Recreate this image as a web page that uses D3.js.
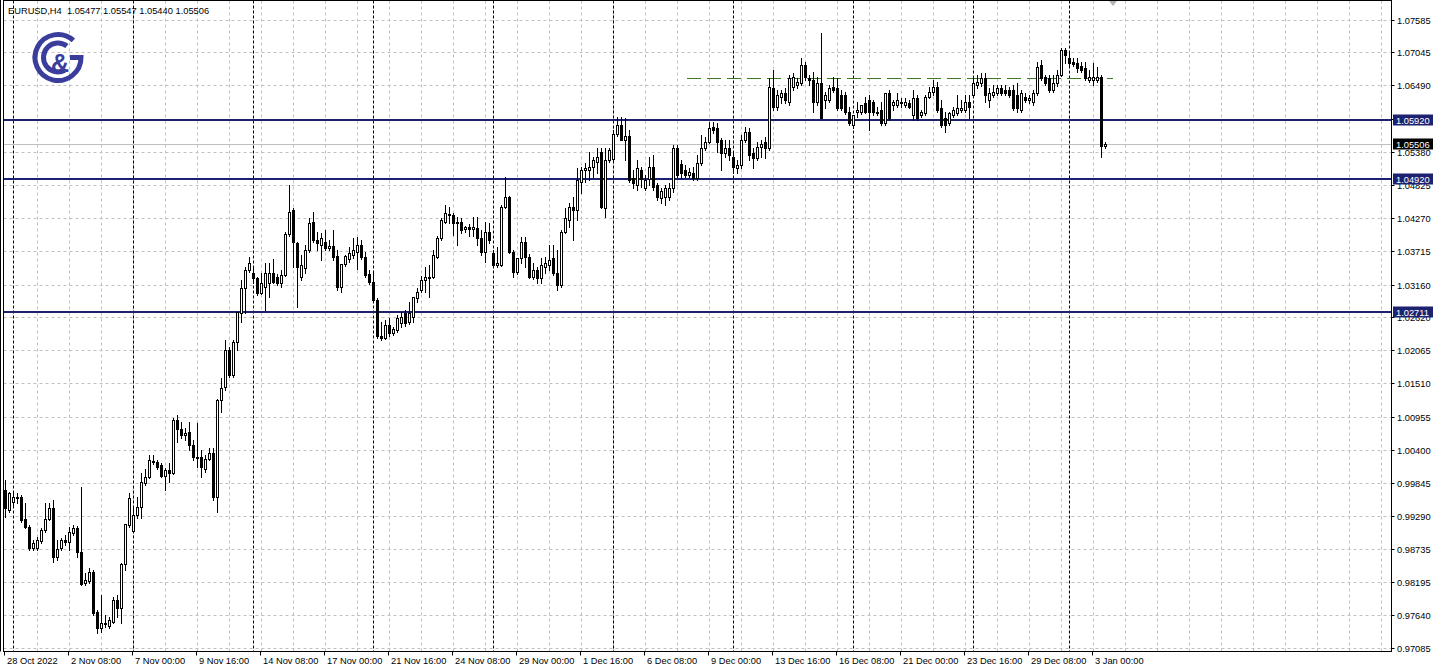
<!DOCTYPE html>
<html><head><meta charset="utf-8">
<script src="https://cdn.jsdelivr.net/npm/d3@7"></script>
<style>
body{margin:0;background:#fff;overflow:hidden}
svg{display:block}
text{font-family:"Liberation Sans",Arial,sans-serif}
</style></head>
<body><svg id="chart" width="1438" height="671"></svg>
<script>
// ---------------- data (EURUSD H4, bar 0 = 28 Oct 2022 16:00) ----------------
const headerText = "EURUSD,H4  1.05477 1.05547 1.05440 1.05506";
const open = [
0.9973,0.9939,0.9953,0.9959,0.9961,0.9924,0.9911,0.9876,0.9876,0.9887,
0.9906,0.9924,0.9943,0.9861,0.9876,0.9889,0.9886,0.9901,0.9909,0.9869,
0.9817,0.9820,0.9836,0.9769,0.9742,0.9749,0.9745,0.9752,0.9789,0.9775,
0.9849,0.9914,0.9904,0.9931,0.9944,0.9984,0.9994,1.0021,1.0019,1.0014,
0.9996,1.0006,1.0001,1.0090,1.0075,1.0065,1.0070,1.0048,1.0028,1.0028,
1.0008,1.0024,1.0034,0.9961,1.0123,1.0145,1.0207,1.0165,1.0220,1.0269,
1.0310,1.0341,1.0336,1.0327,1.0302,1.0312,1.0319,1.0336,1.0329,1.0319,
1.0332,1.0401,1.0441,1.0386,1.0329,1.0344,1.0374,1.0421,1.0391,1.0382,
1.0387,1.0377,1.0381,1.0364,1.0312,1.0350,1.0359,1.0366,1.0371,1.0382,
1.0362,1.0334,1.0321,1.0290,1.0230,1.0227,1.0249,1.0235,1.0240,1.0252,
1.0269,1.0254,1.0262,1.0294,1.0307,1.0324,1.0327,1.0329,1.0362,1.0394,
1.0421,1.0432,1.0432,1.0419,1.0421,1.0409,1.0412,1.0409,1.0411,1.0394,
1.0371,1.0404,1.0369,1.0349,1.0349,1.0446,1.0463,1.0371,1.0337,1.0361,
1.0387,1.0362,1.0329,1.0341,1.0327,1.0346,1.0349,1.0361,1.0336,1.0315,
1.0404,1.0424,1.0446,1.0441,1.0488,1.0508,1.0508,1.0513,1.0521,1.0538,
1.0444,1.0524,1.0526,1.0568,1.0583,1.0558,1.0565,1.0494,1.0483,1.0508,
1.0477,1.0493,1.0513,1.0483,1.0461,1.0463,1.0463,1.0477,1.0545,1.0518,
1.0508,1.0499,1.0503,1.0494,1.0519,1.0545,1.0555,1.0580,1.0578,1.0558,
1.0536,1.0545,1.0529,1.0511,1.0516,1.0558,1.0571,1.0536,1.0528,1.0546,
1.0555,1.0545,1.0645,1.0613,1.0630,1.0637,1.0621,1.0647,1.0650,1.0653,
1.0683,1.0662,1.0658,1.0621,1.0653,1.0625,1.0625,1.0647,1.0645,1.0633,
1.0633,1.0605,1.0583,1.0605,1.0605,1.0620,1.0625,1.0621,1.0603,1.0608,
1.0586,1.0637,1.0616,1.0616,1.0621,1.0616,1.0620,1.0600,1.0628,1.0600,
1.0603,1.0630,1.0638,1.0647,1.0611,1.0595,1.0586,1.0600,1.0603,1.0608,
1.0608,1.0621,1.0633,1.0650,1.0653,1.0662,1.0625,1.0633,1.0637,1.0645,
1.0642,1.0642,1.0642,1.0633,1.0608,1.0630,1.0625,1.0621,1.0637,1.0683,
1.0663,1.0662,1.0642,1.0653,1.0667,1.0708,1.0695,1.0688,1.0687,1.0682,
1.0678,1.0658,1.0658,1.0658,1.0663,1.05477];
const high = [
0.9989,0.9969,0.9968,0.9968,0.9964,0.9951,0.9914,0.9889,0.9894,0.9909,
0.9951,0.9951,0.9956,0.9889,0.9892,0.9897,0.9911,0.9914,0.9912,0.9978,
0.9834,0.9842,0.9839,0.9772,0.9797,0.9764,0.9760,0.9794,0.9797,0.9851,
0.9916,0.9968,0.9944,0.9961,1.0001,1.0008,1.0031,1.0031,1.0023,1.0018,
1.0009,1.0018,1.0093,1.0098,1.0086,1.0076,1.0086,1.0056,1.0085,1.0040,
1.0031,1.0043,1.0043,1.0125,1.0160,1.0224,1.0212,1.0224,1.0270,1.0324,
1.0346,1.0362,1.0346,1.0329,1.0336,1.0352,1.0352,1.0359,1.0334,1.0341,
1.0404,1.0483,1.0444,1.0387,1.0366,1.0382,1.0427,1.0438,1.0404,1.0402,
1.0407,1.0391,1.0407,1.0374,1.0350,1.0366,1.0379,1.0394,1.0396,1.0391,
1.0371,1.0341,1.0337,1.0294,1.0254,1.0257,1.0260,1.0245,1.0265,1.0270,
1.0274,1.0287,1.0295,1.0310,1.0331,1.0346,1.0349,1.0374,1.0397,1.0427,
1.0449,1.0446,1.0436,1.0429,1.0427,1.0414,1.0417,1.0429,1.0429,1.0407,
1.0421,1.0419,1.0374,1.0379,1.0449,1.0496,1.0464,1.0374,1.0361,1.0396,
1.0396,1.0367,1.0352,1.0346,1.0361,1.0362,1.0382,1.0382,1.0374,1.0407,
1.0444,1.0453,1.0463,1.0511,1.0513,1.0519,1.0538,1.0529,1.0545,1.0545,
1.0545,1.0545,1.0575,1.0596,1.0596,1.0595,1.0575,1.0508,1.0524,1.0513,
1.0499,1.0529,1.0533,1.0486,1.0477,1.0483,1.0486,1.0550,1.0550,1.0524,
1.0516,1.0511,1.0513,1.0533,1.0566,1.0563,1.0588,1.0588,1.0586,1.0561,
1.0558,1.0558,1.0536,1.0524,1.0566,1.0580,1.0578,1.0545,1.0555,1.0558,
1.0563,1.0662,1.0675,1.0642,1.0642,1.0645,1.0667,1.0670,1.0662,1.0695,
1.0688,1.0667,1.0671,1.0663,1.0737,1.0638,1.0650,1.0663,1.0662,1.0642,
1.0638,1.0613,1.0600,1.0621,1.0616,1.0630,1.0633,1.0625,1.0613,1.0621,
1.0637,1.0642,1.0625,1.0637,1.0628,1.0628,1.0625,1.0642,1.0633,1.0608,
1.0633,1.0647,1.0658,1.0655,1.0625,1.0605,1.0605,1.0613,1.0633,1.0625,
1.0633,1.0633,1.0662,1.0667,1.0670,1.0670,1.0645,1.0650,1.0650,1.0650,
1.0650,1.0647,1.0650,1.0653,1.0642,1.0637,1.0633,1.0642,1.0688,1.0692,
1.0667,1.0667,1.0667,1.0675,1.0712,1.0712,1.0703,1.0695,1.0695,1.0688,
1.0688,1.0675,1.0687,1.0680,1.0667,1.05547];
const low = [
0.9927,0.9936,0.9948,0.9951,0.9919,0.9909,0.9872,0.9872,0.9872,0.9884,
0.9902,0.9922,0.9852,0.9856,0.9872,0.9881,0.9872,0.9897,0.9861,0.9814,
0.9814,0.9817,0.9764,0.9734,0.9735,0.9744,0.9742,0.9750,0.9760,0.9750,
0.9839,0.9911,0.9902,0.9926,0.9926,0.9981,0.9993,1.0016,1.0008,0.9994,
0.9973,0.9986,0.9999,1.0053,1.0060,1.0056,1.0040,1.0023,1.0011,0.9994,
1.0003,1.0023,0.9956,0.9936,1.0103,1.0140,1.0162,1.0162,1.0207,1.0254,
1.0269,1.0337,1.0319,1.0299,1.0300,1.0274,1.0295,1.0319,1.0315,1.0312,
1.0331,1.0397,1.0346,1.0279,1.0324,1.0336,1.0371,1.0387,1.0374,1.0357,
1.0374,1.0374,1.0357,1.0307,1.0304,1.0347,1.0354,1.0361,1.0342,1.0359,
1.0329,1.0317,1.0287,1.0227,1.0224,1.0225,1.0230,1.0232,1.0237,1.0245,
1.0247,1.0250,1.0254,1.0287,1.0304,1.0304,1.0295,1.0327,1.0361,1.0391,
1.0419,1.0419,1.0399,1.0382,1.0402,1.0404,1.0397,1.0397,1.0382,1.0366,
1.0354,1.0386,1.0347,1.0346,1.0347,1.0444,1.0369,1.0329,1.0334,1.0352,
1.0346,1.0327,1.0326,1.0319,1.0319,1.0336,1.0341,1.0332,1.0307,1.0312,
1.0402,1.0412,1.0391,1.0424,1.0469,1.0488,1.0491,1.0496,1.0503,1.0444,
1.0429,1.0521,1.0524,1.0565,1.0558,1.0524,1.0488,1.0477,1.0474,1.0479,
1.0474,1.0483,1.0474,1.0458,1.0453,1.0449,1.0458,1.0471,1.0496,1.0494,
1.0496,1.0496,1.0491,1.0491,1.0516,1.0541,1.0553,1.0570,1.0538,1.0508,
1.0529,1.0524,1.0503,1.0503,1.0511,1.0555,1.0524,1.0511,1.0524,1.0529,
1.0528,1.0541,1.0608,1.0608,1.0620,1.0620,1.0616,1.0642,1.0645,1.0650,
1.0658,1.0650,1.0605,1.0616,1.0595,1.0611,1.0621,1.0638,1.0608,1.0608,
1.0601,1.0583,1.0578,1.0596,1.0601,1.0603,1.0575,1.0600,1.0600,1.0583,
1.0583,1.0591,1.0608,1.0613,1.0613,1.0613,1.0611,1.0591,1.0591,1.0596,
1.0600,1.0628,1.0633,1.0605,1.0580,1.0571,1.0583,1.0596,1.0600,1.0605,
1.0605,1.0595,1.0630,1.0645,1.0648,1.0621,1.0613,1.0630,1.0633,1.0633,
1.0633,1.0630,1.0608,1.0605,1.0605,1.0621,1.0620,1.0616,1.0633,1.0658,
1.0650,1.0638,1.0638,1.0648,1.0665,1.0687,1.0682,1.0682,1.0672,1.0672,
1.0658,1.0655,1.0650,1.0655,1.0529,1.05440];
const close = [
0.9943,0.9968,0.9961,0.9961,0.9922,0.9911,0.9876,0.9884,0.9889,0.9906,
0.9924,0.9943,0.9861,0.9874,0.9889,0.9886,0.9902,0.9909,0.9869,0.9816,
0.9822,0.9836,0.9767,0.9742,0.9750,0.9750,0.9755,0.9789,0.9775,0.9849,
0.9916,0.9959,0.9931,0.9944,0.9986,0.9994,1.0023,1.0019,1.0011,0.9996,
1.0006,1.0001,1.0090,1.0075,1.0065,1.0068,1.0048,1.0028,1.0026,1.0011,
1.0024,1.0034,0.9961,1.0123,1.0143,1.0207,1.0165,1.0220,1.0270,1.0310,
1.0341,1.0352,1.0327,1.0302,1.0319,1.0336,1.0336,1.0321,1.0319,1.0332,
1.0401,1.0438,1.0387,1.0346,1.0349,1.0374,1.0419,1.0391,1.0386,1.0394,
1.0377,1.0381,1.0362,1.0312,1.0350,1.0364,1.0369,1.0374,1.0382,1.0362,
1.0332,1.0321,1.0290,1.0230,1.0227,1.0249,1.0235,1.0242,1.0260,1.0262,
1.0252,1.0269,1.0295,1.0304,1.0324,1.0329,1.0329,1.0366,1.0394,1.0424,
1.0436,1.0434,1.0419,1.0421,1.0407,1.0412,1.0409,1.0412,1.0394,1.0371,
1.0404,1.0391,1.0349,1.0352,1.0446,1.0463,1.0371,1.0337,1.0361,1.0387,
1.0362,1.0329,1.0341,1.0327,1.0349,1.0352,1.0357,1.0336,1.0315,1.0404,
1.0427,1.0446,1.0441,1.0491,1.0508,1.0511,1.0513,1.0524,1.0529,1.0446,
1.0524,1.0541,1.0568,1.0583,1.0558,1.0565,1.0491,1.0486,1.0511,1.0493,
1.0491,1.0513,1.0479,1.0463,1.0472,1.0477,1.0477,1.0545,1.0499,1.0503,
1.0499,1.0504,1.0494,1.0519,1.0545,1.0555,1.0578,1.0575,1.0555,1.0536,
1.0545,1.0533,1.0513,1.0516,1.0558,1.0571,1.0533,1.0528,1.0546,1.0551,
1.0545,1.0646,1.0613,1.0633,1.0637,1.0625,1.0662,1.0663,1.0655,1.0683,
1.0663,1.0658,1.0621,1.0653,1.0595,1.0633,1.0645,1.0642,1.0611,1.0611,
1.0605,1.0586,1.0600,1.0608,1.0616,1.0605,1.0605,1.0605,1.0605,1.0586,
1.0637,1.0595,1.0621,1.0625,1.0620,1.0621,1.0613,1.0628,1.0595,1.0605,
1.0630,1.0638,1.0647,1.0608,1.0583,1.0583,1.0603,1.0608,1.0611,1.0611,
1.0621,1.0613,1.0653,1.0655,1.0662,1.0633,1.0637,1.0638,1.0645,1.0637,
1.0637,1.0633,1.0611,1.0611,1.0637,1.0625,1.0628,1.0637,1.0680,1.0662,
1.0653,1.0642,1.0653,1.0667,1.0708,1.0700,1.0687,1.0685,1.0678,1.0675,
1.0662,1.0663,1.0663,1.0663,1.0548,1.05506];

const timeLabels    = ["28 Oct 2022","2 Nov 08:00","7 Nov 00:00","9 Nov 16:00","14 Nov 08:00","17 Nov 00:00","21 Nov 16:00","24 Nov 08:00","29 Nov 00:00","1 Dec 16:00","6 Dec 08:00","9 Dec 00:00","13 Dec 16:00","16 Dec 08:00","21 Dec 00:00","23 Dec 16:00","29 Dec 08:00","3 Jan 00:00"];
const timeLabelBars = [0,16,32,48,64,80,96,112,128,144,160,176,192,208,224,240,256,272];
const weekStartBars = [2,32,62,92,122,152,182,212,242,266];
const priceTicks = [1.07585,1.07045,1.06490,1.05935,1.05380,1.04825,1.04270,1.03715,1.03160,1.02620,1.02065,1.01510,1.00955,1.00400,0.99845,0.99290,0.98735,0.98195,0.97640,0.97085];
const levelPrices = [1.05920,1.04920,1.02711];
const levelTexts  = ["1.05920","1.04920","1.02711"];
const resistancePrice = 1.06615;
const resistanceBars = [170.5, 277];
const bidPrice = 1.05506;
const bidText = "1.05506";

// ---------------- layout ----------------
const W = 1438, H = 671;
const plotL = 3.5, plotR = 1391.5, plotT = 0.5, plotB = 651.5;
const svg = d3.select("#chart");
const x = d3.scaleLinear().domain([0, 346]).range([5, 5 + 4 * 346]);
const y = d3.scaleLinear().domain([0.97085, 1.07585]).range([648, 20]);
const py = v => Math.round(y(v)) + 0.5;

svg.append("rect").attr("width", W).attr("height", H).attr("fill", "#fff");

const plot = svg.append("g");
svg.append("defs").append("clipPath").attr("id","clip")
  .append("rect").attr("x", plotL).attr("y", plotT).attr("width", plotR - plotL).attr("height", plotB - plotT);
plot.attr("clip-path","url(#clip)");

// horizontal grid
plot.selectAll("line.hg").data(priceTicks).enter().append("line")
  .attr("x1", plotL).attr("x2", plotR).attr("y1", d => py(d)).attr("y2", d => py(d))
  .attr("stroke", "#c0c0c0").attr("stroke-dasharray", "3,3").attr("stroke-width", 1);
// vertical grid every 8 bars
const vgrid = d3.range(8, 347, 8);
plot.selectAll("line.vg").data(vgrid).enter().append("line")
  .attr("x1", d => Math.round(x(d)) + 0.5).attr("x2", d => Math.round(x(d)) + 0.5)
  .attr("y1", plotT).attr("y2", plotB)
  .attr("stroke", "#c0c0c0").attr("stroke-dasharray", "3,3").attr("stroke-width", 1);
// week separators
plot.selectAll("line.ws").data(weekStartBars).enter().append("line")
  .attr("x1", d => Math.round(x(d)) + 0.5).attr("x2", d => Math.round(x(d)) + 0.5)
  .attr("y1", plotT).attr("y2", plotB)
  .attr("stroke", "#000").attr("stroke-dasharray", "3,2").attr("stroke-width", 1);

// bid line
plot.append("line").attr("x1", plotL).attr("x2", plotR).attr("y1", py(bidPrice)).attr("y2", py(bidPrice))
  .attr("stroke", "#c0c0c0").attr("stroke-width", 1);

// horizontal levels
plot.selectAll("line.lv").data(levelPrices).enter().append("line")
  .attr("x1", plotL).attr("x2", plotR).attr("y1", d => Math.round(y(d))).attr("y2", d => Math.round(y(d)))
  .attr("stroke", "#1c2170").attr("stroke-width", 2);

// resistance dashed line
plot.append("line")
  .attr("x1", x(resistanceBars[0])).attr("x2", x(resistanceBars[1]))
  .attr("y1", py(resistancePrice)).attr("y2", py(resistancePrice))
  .attr("stroke", "#3f7a22").attr("stroke-width", 1).attr("stroke-dasharray", "14,6");

// candles
const bars = open.map((o, i) => ({i, o, h: high[i], l: low[i], c: close[i]}));
const cg = plot.append("g");
bars.forEach(b => {
  const cx = Math.round(x(b.i)) + 0.5;
  const yo = Math.round(y(b.o)), yc = Math.round(y(b.c));
  const yh = Math.round(y(Math.max(b.h, b.o, b.c))), yl = Math.round(y(Math.min(b.l, b.o, b.c)));
  cg.append("line").attr("x1", cx).attr("x2", cx).attr("y1", yh).attr("y2", yl + 1)
    .attr("stroke", "#000").attr("stroke-width", 1);
  const top = Math.min(yo, yc), bot = Math.max(yo, yc);
  if (bot - top < 1) {
    cg.append("line").attr("x1", cx - 1.5).attr("x2", cx + 1.5).attr("y1", top + 0.5).attr("y2", top + 0.5)
      .attr("stroke", "#000").attr("stroke-width", 1);
  } else {
    cg.append("rect").attr("x", cx - 1).attr("y", top + 0.5).attr("width", 2).attr("height", bot - top)
      .attr("fill", b.c > b.o ? "#fff" : "#000").attr("stroke", "#000").attr("stroke-width", 1);
  }
});

// frame
svg.append("line").attr("x1", 0.5).attr("x2", 0.5).attr("y1", 0).attr("y2", plotB).attr("stroke", "#000");
svg.append("rect").attr("x", plotL).attr("y", plotT).attr("width", plotR - plotL).attr("height", plotB - plotT)
  .attr("fill", "none").attr("stroke", "#000").attr("stroke-width", 1);

// shift marker
svg.append("path").attr("d", "M1109,1 L1117,1 L1113,6 Z").attr("fill", "#b4b4b4");

// price axis ticks + labels
const ax = svg.append("g");
ax.selectAll("line").data(priceTicks).enter().append("line")
  .attr("x1", plotR).attr("x2", plotR + 3).attr("y1", d => py(d)).attr("y2", d => py(d)).attr("stroke", "#000");
ax.selectAll("text").data(priceTicks).enter().append("text")
  .attr("x", 1397).attr("y", d => py(d) + 3.5).attr("font-size", 9.3).attr("fill", "#000")
  .text(d => d3.format(".5f")(d));

// level labels
levelPrices.forEach((v, j) => {
  const yy = Math.round(y(v));
  svg.append("rect").attr("x", 1393).attr("y", yy - 5.5).attr("width", 40).attr("height", 11).attr("fill", "#1c2170");
  svg.append("text").attr("x", 1396).attr("y", yy + 3.5).attr("font-size", 9.3).attr("fill", "#fff").text(levelTexts[j]);
});
// bid label
{
  const yy = Math.round(y(bidPrice));
  svg.append("rect").attr("x", 1393).attr("y", yy - 5.5).attr("width", 40).attr("height", 11).attr("fill", "#000");
  svg.append("text").attr("x", 1396).attr("y", yy + 3.5).attr("font-size", 9.3).attr("fill", "#fff").text(bidText);
}

// time axis
const tx = svg.append("g");
tx.selectAll("line").data(timeLabelBars).enter().append("line")
  .attr("x1", d => Math.round(x(d)) - 0.5).attr("x2", d => Math.round(x(d)) - 0.5)
  .attr("y1", plotB).attr("y2", plotB + 4).attr("stroke", "#000");
tx.selectAll("text").data(timeLabels).enter().append("text")
  .attr("x", (d, i) => Math.round(x(timeLabelBars[i])) + 2).attr("y", 664)
  .attr("font-size", 9.3).attr("fill", "#000").text(d => d);

// header
svg.append("text").attr("x", 8).attr("y", 14).attr("font-size", 9.3).attr("fill", "#000")
  .attr("xml:space", "preserve").style("white-space", "pre").text(headerText);

// logo
const logoColor = "#3a3d9c";
const lg = svg.append("g").attr("fill", "none").attr("stroke", logoColor).attr("stroke-width", 5);
const cx0 = 58, cy0 = 57.5;
const pt = (r, a) => [cx0 + r * Math.cos(a * Math.PI / 180), cy0 + r * Math.sin(a * Math.PI / 180)];
{
  const r = 23, s = pt(r, -48), e = pt(r, 0);
  lg.append("path").attr("d", `M${s[0]},${s[1]} A${r},${r} 0 1 0 ${e[0]},${e[1]} L${cx0 + 12},${cy0}`);
  const r2 = 14.5, s2 = pt(r2, -52), e2 = pt(r2, 62);
  lg.append("path").attr("d", `M${s2[0]},${s2[1]} A${r2},${r2} 0 1 0 ${e2[0]},${e2[1]}`);
}
svg.append("text").attr("x", 60).attr("y", 72).attr("text-anchor", "middle").attr("font-size", 25)
  .attr("font-weight", "bold").attr("fill", logoColor).text("&");
</script></body></html>
